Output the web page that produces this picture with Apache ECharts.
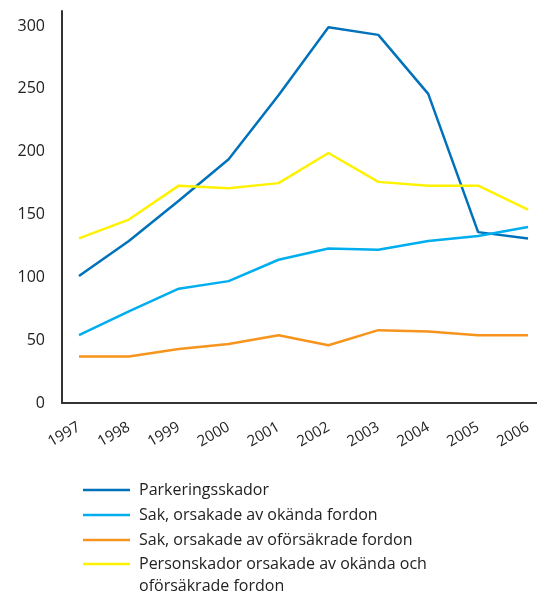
<!DOCTYPE html>
<html><head><meta charset="utf-8">
<script src="https://cdn.jsdelivr.net/npm/echarts@6/dist/echarts.min.js"></script>
<style>html,body{margin:0;padding:0;background:#fff}#c{width:537px;height:592px}</style>
</head><body><div id="c"></div>
<script>
const years = [1997, 1998, 1999, 2000, 2001, 2002, 2003, 2004, 2005, 2006];
const yTicks = [0, 50, 100, 150, 200, 250, 300];
const seriesNames = [
  'Parkeringsskador',
  'Sak, orsakade av okända fordon',
  'Sak, orsakade av oförsäkrade fordon',
  'Personskador orsakade av okända och oförsäkrade fordon'
];
const parkering = [101, 129, 161, 194, 245, 299, 293, 246, 136, 131];
const sakOkanda = [54, 73, 91, 97, 114, 123, 122, 129, 133, 140];
const sakOforsakrade = [37, 37, 43, 47, 54, 46, 58, 57, 54, 54];
const personskador = [131, 146, 173, 171, 175, 199, 176, 173, 173, 154];
const colors = ['#0072bc', '#00aeef', '#f7941d', '#fff200'];

const values = [parkering, sakOkanda, sakOforsakrade, personskador];
const font = 'Open Sans';
const chart = echarts.init(document.getElementById('c'), null, {renderer: 'canvas'});
const legendText = {fontSize: 16, lineHeight: 22, color: '#222', fontFamily: font, padding: [0, 0, 0, 4]};
chart.setOption({
  animation: false,
  textStyle: {fontFamily: font},
  grid: {left: 62, right: 0, top: 11, bottom: 189, containLabel: false},
  xAxis: {
    type: 'value', min: 1996.66, max: 2006.18,
    axisLine: {show: true, lineStyle: {color: '#333', width: 2}},
    axisTick: {show: false},
    splitLine: {show: false},
    axisLabel: {customValues: years, rotate: 30, margin: 23, color: '#222', fontSize: 15, fontFamily: font,
      formatter: v => String(Math.round(v))}
  },
  yAxis: {
    type: 'value', min: 0, max: 312, interval: 50,
    axisLine: {show: true, lineStyle: {color: '#333', width: 2}},
    axisTick: {show: false},
    splitLine: {show: false},
    axisLabel: {customValues: yTicks, margin: 17, color: '#222', fontSize: 16, fontFamily: font,
      padding: [3, 0, 0, 0]}
  },
  legend: [{
    orient: 'vertical', left: 78, top: 474, itemWidth: 47, itemHeight: 2.5, itemGap: 3,
    icon: 'rect',
    data: seriesNames.slice(0, 3),
    textStyle: legendText
  }, {
    orient: 'vertical', left: 78, top: 526, itemWidth: 47, itemHeight: 2.5,
    icon: 'rect',
    data: seriesNames.slice(3),
    formatter: n => ' \n' + n.replace(' och ', ' och\n'),
    textStyle: legendText
  }],
  series: seriesNames.map((n, i) => ({
    name: n, type: 'line', symbol: 'none',
    data: years.map((y, j) => [y, values[i][j]]),
    lineStyle: {color: colors[i], width: 2.5},
    itemStyle: {color: colors[i]}
  }))
});
</script></body></html>
